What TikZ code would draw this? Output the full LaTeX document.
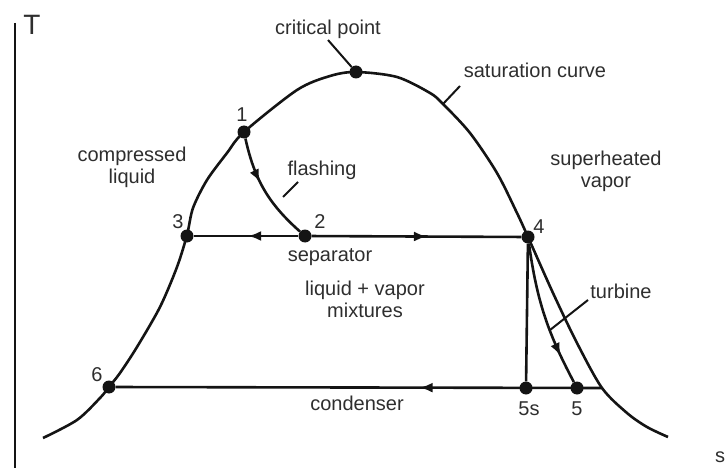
\documentclass[tikz,border=0pt]{standalone}
\usepackage{fontspec}
\setmainfont{Liberation Sans}
\usetikzlibrary{arrows.meta,decorations.markings}
\definecolor{ink}{HTML}{141414}
\definecolor{txt}{HTML}{2E2E2E}

\begin{document}
\begin{tikzpicture}[
    x=1pt, y=-1pt,
    line/.style={draw=ink, line width=2.6pt},
    ptr/.style={draw=ink, line width=2pt},
    pt/.style={circle, fill=ink, inner sep=0pt, minimum size=13pt},
    lbl/.style={text=txt, font=\fontsize{20}{22}\selectfont, align=center, inner sep=0pt},
    midarr/.style={postaction={decorate}, decoration={markings, mark=at position #1 with {\arrow{Latex[length=13pt,width=10pt]}}}}
]
    \useasboundingbox (0,0) rectangle (726,468);

    % axis
    \draw[line] (15,23) -- (15,470);
    \node[lbl, font=\fontsize{28}{30}\selectfont] (Tlab) at (32,25) {T};
    \node[lbl] (slab) at (720,457) {s};

    % saturation dome
    \draw[line] plot[smooth, tension=0.5] coordinates {(43,438) (77,420) (100,398) (109,387) (120,373) (137,347) (160,307) (177,267) (187,235) (193,208) (207,180) (227,153) (244,132) (297,90) (330,76) (356,72) (397,77) (430,93) (443,104) (470,133) (497,173) (517,213) (528,237) (553,293) (577,343) (602,388) (627,413) (647,427) (668,437)};

    % state points
    \node[pt] (crit) at (356,72) {};
    \node[pt] (p1) at (244,132) {};
    \node[pt] (p2) at (305,236) {};
    \node[pt] (p3) at (187,236) {};
    \node[pt] (p4) at (528,237) {};
    \node[pt] (p5s) at (526,388) {};
    \node[pt] (p5) at (577,388) {};
    \node[pt] (p6) at (109,387) {};
    \coordinate (cnd) at (602,388);

    % cycle
    \draw[line, midarr=0.42] (p1) to[bend right=18] (p2);
    \draw[line, midarr=0.48] (p2) -- (p3);
    \draw[line, midarr=0.55] (p2) -- (p4);
    \draw[line] (p4) -- (p5s);
    \draw[line, midarr=0.8] (p4) to[bend right=10] (p5);
    \draw[line, midarr=0.375] (cnd) -- (p6);

    % point labels
    \node[lbl] (l1) at (242,115) {1};
    \node[lbl] (l2) at (320,222) {2};
    \node[lbl] (l3) at (178,222) {3};
    \node[lbl] (l4) at (539,227) {4};
    \node[lbl] (l5s) at (529,409) {5s};
    \node[lbl] (l5) at (577,409) {5};
    \node[lbl] (l6) at (97,375) {6};

    % region and process labels
    \node[lbl] (critlab) at (328,29) {critical point};
    \node[lbl] (satlab) at (535,70) {saturation curve};
    \node[lbl] (complab) at (132,167) {compressed\\liquid};
    \node[lbl] (suplab) at (606,171) {superheated\\vapor};
    \node[lbl] (flashlab) at (322,170) {flashing};
    \node[lbl] (seplab) at (330,257) {separator};
    \node[lbl] (mixlab) at (365,299) {liquid + vapor\\mixtures};
    \node[lbl] (turblab) at (621,291) {turbine};
    \node[lbl] (condlab) at (357,403) {condenser};

    % pointers
    \coordinate (critend) at (328,40);
    \coordinate (sattop) at (460,86);
    \coordinate (satbot) at (443,104);
    \coordinate (flashtop) at (298,182);
    \coordinate (flashbot) at (283,197);
    \coordinate (turbtop) at (588,300);
    \coordinate (turbbot) at (550,330);
    \draw[ptr] (critend) -- (crit);
    \draw[ptr] (sattop) -- (satbot);
    \draw[ptr] (flashtop) -- (flashbot);
    \draw[ptr] (turbtop) -- (turbbot);
\end{tikzpicture}
\end{document}
